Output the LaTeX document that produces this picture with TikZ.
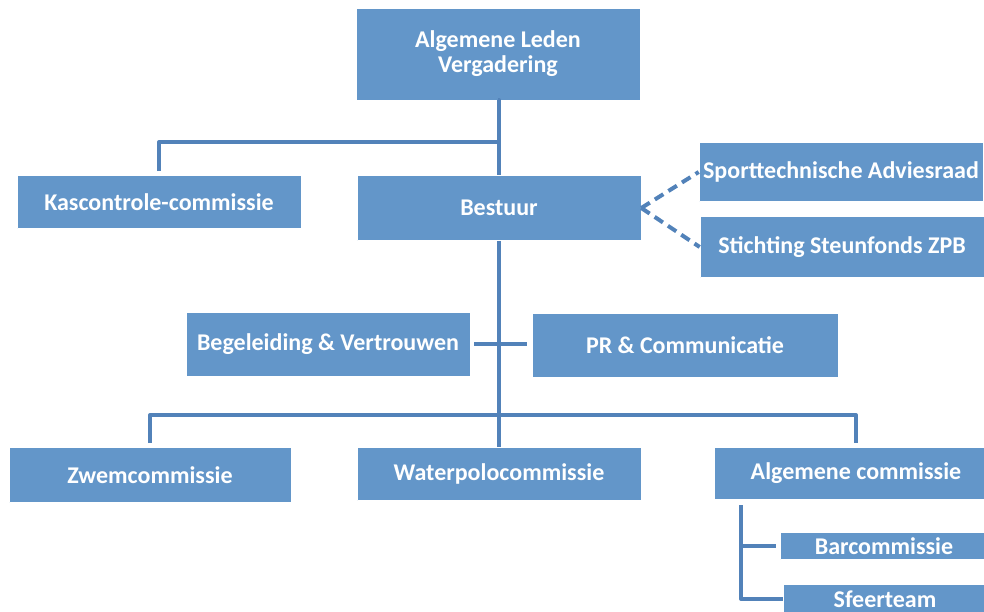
\documentclass[tikz,border=0pt]{standalone}
\usepackage{fontspec}
\setmainfont{Carlito}
\definecolor{boxblue}{HTML}{6396C9}
\definecolor{lineblue}{HTML}{5282B9}
\begin{document}
\begin{tikzpicture}[x=1pt, y=-1pt, line join=round,
		box/.style={fill=boxblue, draw=white, line width=.6pt, text=white, font=\bfseries\fontsize{24}{25}\selectfont, align=center, inner sep=0pt, minimum width=284pt, minimum height=#1},
		box/.default=53pt,
		conn/.style={draw=lineblue, line width=4pt},
		dconn/.style={conn, dash pattern=on 10pt off 6pt}]
	\useasboundingbox (0,0) rectangle (984,611);
	\clip (0,0) rectangle (984,611);
	\node[box=92pt] (alv) at (498,54) {Algemene Leden\\Vergadering};
	\node[box] (kas) at (159,202) {Kascontrole-commissie};
	\node[box=65pt] (bestuur) at (499,208) {Bestuur};
	\node[box=59pt] (sport) at (841,172) {Sporttechnische Adviesraad};
	\node[box=61pt] (stichting) at (842,247) {Stichting Steunfonds ZPB};
	\node[box=64pt] (beg) at (328,344) {Begeleiding \& Vertrouwen};
	\node[box=64pt, minimum width=306pt] (pr) at (685,345) {PR \& Communicatie};
	\node[box=55pt, minimum width=282pt] (zwem) at (150,475) {Zwemcommissie};
	\node[box] (water) at (499,474) {Waterpolocommissie};
	\node[box=52pt] (algc) at (856,473) {Algemene commissie};
	\node[box=27pt, minimum width=208pt] (bar) at (884,546) {Barcommissie};
	\node[box=30pt, minimum width=204pt] (sfeer) at (885,599) {Sfeerteam};
	% lijnen
	\coordinate (j1) at (499,142);
	\coordinate (j2) at (499,415);
	\coordinate (s0) at (741,505);
	\draw[conn] (alv.south) -- (alv.south -| j1) -- (bestuur.north);
	\draw[conn, shorten <=4pt] (kas.north) |- (j1);
	\draw[conn] (bestuur.south) -- (bestuur.south |- water.north) ;
	\draw[conn, shorten <=4pt, shorten >=4pt] (zwem.north) |- (j2) -| (algc.north);
	\draw[conn, shorten <=4pt, shorten >=5pt] (beg.east) -- (beg.east -| pr.west);
	\draw[dconn] (bestuur.east) -- (sport.west) (bestuur.east) -- (stichting.west);
	\draw[conn, shorten >=4pt] (s0) |- (sfeer.west) (s0 |- bar.west) -- (bar.west);
\end{tikzpicture}
\end{document}
